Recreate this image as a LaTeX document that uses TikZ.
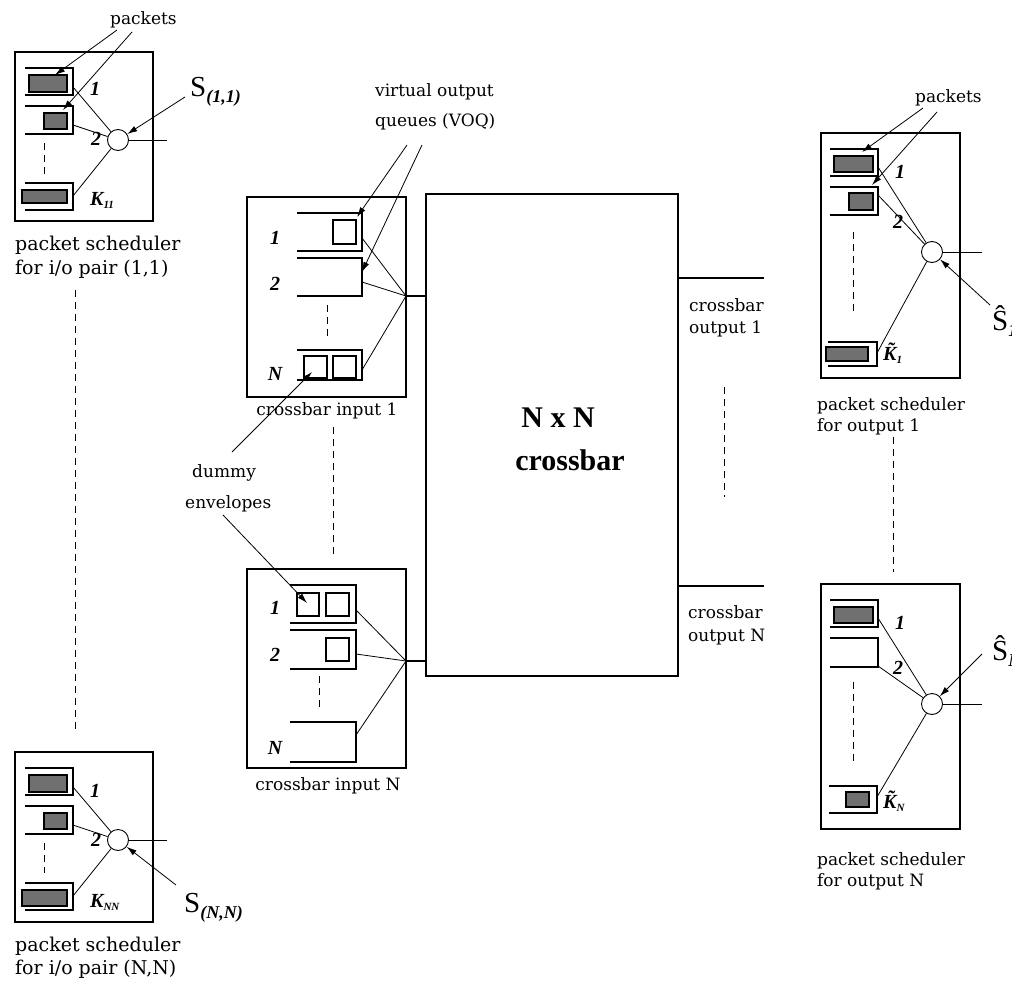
\documentclass[tikz,border=0pt]{standalone}
\usepackage{fontspec}
\usetikzlibrary{arrows.meta}
\newfontfamily\lblfont{DejaVu Serif}
\newfontfamily\tnr{Liberation Serif}
\definecolor{pktgray}{RGB}{112,112,112}
\begin{document}
\begin{tikzpicture}[x=1pt,y=-1pt,
  frame/.style={line width=1.3pt},
  thinl/.style={line width=0.8pt},
  pkt/.style={draw, line width=1.2pt, fill=pktgray},
  arr/.style={line width=0.8pt, -{Latex[length=10pt,width=6pt]}},
  dashl/.style={line width=1pt, dash pattern=on 7pt off 5pt},
  sched/.style={circle, draw, line width=0.9pt, minimum size=21pt, inner sep=0pt},
  lbl/.style={font=\lblfont\fontsize{17}{20}\selectfont, inner sep=0pt, anchor=base west},
  lblL/.style={font=\lblfont\fontsize{19}{22}\selectfont, inner sep=0pt, anchor=base west},
  qnum/.style={font=\tnr\bfseries\itshape\fontsize{20}{20}\selectfont, inner sep=0pt},
  big/.style={font=\tnr\bfseries\fontsize{30}{30}\selectfont, inner sep=0pt, anchor=base},
  slbl/.style={font=\tnr\fontsize{29}{29}\selectfont, inner sep=0pt, anchor=base west},
]
\useasboundingbox (0,0) rectangle (1012,987);
\fill[white] (0,0) rectangle (1012,987);

% ================= top-left scheduler (1,1)
\draw[frame] (15,52) rectangle (153,221);
\draw[frame] (25,68) -| (73,95) -- (25,95);
\draw[pkt] (29,75) rectangle (67,92);
\draw[frame] (25,106) -| (73,134) -- (25,134);
\draw[pkt] (44,113) rectangle (67,129);
\draw[dashl] (44,143) -- (44,175);
\draw[frame] (25,183) -| (73,210) -- (25,210);
\draw[pkt] (22,190) rectangle (67,203);
\node[sched] (c11) at (118,140) {};
\coordinate (tlq1) at (73,87);
\coordinate (tlq2) at (73,125);
\coordinate (tlqk) at (73,196);
\coordinate (tlout) at (167,140);
\draw[thinl] (tlq1) -- (c11);
\draw[thinl] (tlq2) -- (c11);
\draw[thinl] (tlqk) -- (c11);
\draw[thinl] (c11.east) -- (tlout);
\node[qnum] (tln1) at (95,89) {1};
\node[qnum] (tln2) at (96,139) {2};
\node[qnum, anchor=base west] (tlk) at (90,206) {K\raisebox{-3pt}{\fontsize{11}{11}\selectfont 11}};
\node[slbl] (s11) at (190,97) {S\raisebox{-6pt}{\fontsize{18}{18}\selectfont\bfseries\itshape (1,1)}};
\coordinate (s11a) at (185,97);
\draw[arr] (s11a) -- (c11);
\node[lbl] (pk1) at (110,25) {packets};
\coordinate (pk1a) at (117,30);
\coordinate (pk1b) at (132,32);
\coordinate (pk1t1) at (55,75);
\coordinate (pk1t2) at (63,110);
\draw[arr] (pk1a) -- (pk1t1);
\draw[arr] (pk1b) -- (pk1t2);
\node[lblL] (tlc1) at (15,251) {packet scheduler};
\node[lblL] (tlc2) at (15,274) {for i/o pair (1,1)};

% dashed link between left schedulers
\coordinate (ld1) at (75,290);
\coordinate (ld2) at (75,730);
\draw[dashl] (ld1) -- (ld2);

% ================= bottom-left scheduler (N,N)
\draw[frame] (15,752) rectangle (153,922);
\draw[frame] (25,768) -| (73,795) -- (25,795);
\draw[pkt] (29,775) rectangle (67,792);
\draw[frame] (25,806) -| (73,834) -- (25,834);
\draw[pkt] (44,813) rectangle (67,829);
\draw[dashl] (44,843) -- (44,873);
\draw[frame] (25,883) -| (73,910) -- (25,910);
\draw[pkt] (22,890) rectangle (67,906);
\node[sched] (cnn) at (118,840) {};
\coordinate (blq1) at (73,787);
\coordinate (blq2) at (73,825);
\coordinate (blqk) at (73,896);
\coordinate (blout) at (167,840);
\draw[thinl] (blq1) -- (cnn);
\draw[thinl] (blq2) -- (cnn);
\draw[thinl] (blqk) -- (cnn);
\draw[thinl] (cnn.east) -- (blout);
\node[qnum] (bln1) at (95,791) {1};
\node[qnum] (bln2) at (96,840) {2};
\node[qnum, anchor=base west] (blk) at (90,907) {K\raisebox{-3pt}{\fontsize{11}{11}\selectfont NN}};
\node[slbl] (snn) at (184,912) {S\raisebox{-6pt}{\fontsize{18}{18}\selectfont\bfseries\itshape (N,N)}};
\coordinate (snna) at (176,885);
\draw[arr] (snna) -- (cnn);
\node[lblL] (blc1) at (15,951) {packet scheduler};
\node[lblL] (blc2) at (15,974) {for i/o pair (N,N)};

% ================= crossbar input 1
\draw[frame] (247,197) rectangle (406,397);
\draw[frame] (297,213) -| (362,251) -- (297,251);
\draw[frame] (333,220) rectangle (356,244);
\draw[frame] (297,258) -| (362,296) -- (297,296);
\draw[dashl] (327,305) -- (327,337);
\draw[frame] (297,350) -| (362,380) -- (297,380);
\draw[frame] (304,356) rectangle (327,378);
\draw[frame] (333,356) rectangle (356,378);
\node[qnum] (i1n1) at (275,238) {1};
\node[qnum] (i1n2) at (275,284) {2};
\node[qnum] (i1nn) at (275,374) {N};
\coordinate (j1) at (406,296);
\coordinate (i1q1) at (362,238);
\coordinate (i1q2) at (362,282);
\coordinate (i1qn) at (362,370);
\draw[thinl] (i1q1) -- (j1);
\draw[thinl] (i1q2) -- (j1);
\draw[thinl] (i1qn) -- (j1);
\node[lbl, anchor=base] (i1c) at (327,415) {crossbar input 1};

% VOQ label
\node[lbl] (voq1) at (375,97) {virtual output};
\node[lbl] (voq2) at (375,127) {queues (VOQ)};
\coordinate (voqa) at (407,145);
\coordinate (voqb) at (422,145);
\coordinate (voqt1) at (357,217);
\coordinate (voqt2) at (362,272);
\draw[arr] (voqa) -- (voqt1);
\draw[arr] (voqb) -- (voqt2);

% dashed link between crossbar inputs
\coordinate (id1) at (333,427);
\coordinate (id2) at (333,555);
\draw[dashl] (id1) -- (id2);

% dummy envelopes
\node[lbl] (dm1) at (192,477) {dummy};
\node[lbl] (dm2) at (185,508) {envelopes};
\coordinate (dma) at (232,452);
\coordinate (dmb) at (223,515);
\coordinate (dmt1) at (312,372);
\coordinate (dmt2) at (307,603);
\draw[arr] (dma) -- (dmt1);
\draw[arr] (dmb) -- (dmt2);

% ================= crossbar input N
\draw[frame] (247,569) rectangle (406,768);
\draw[frame] (290,585) -| (356,623) -- (290,623);
\draw[frame] (297,593) rectangle (319,616);
\draw[frame] (326,593) rectangle (349,616);
\draw[frame] (290,630) -| (356,669) -- (290,669);
\draw[frame] (326,638) rectangle (349,661);
\draw[dashl] (319,676) -- (319,707);
\draw[frame] (290,722) -| (356,762) -- (290,762);
\node[qnum] (inn1) at (275,608) {1};
\node[qnum] (inn2) at (275,655) {2};
\node[qnum] (innn) at (275,748) {N};
\coordinate (jn) at (406,661);
\coordinate (inq1) at (356,610);
\coordinate (inq2) at (356,654);
\coordinate (inqn) at (356,735);
\draw[thinl] (inq1) -- (jn);
\draw[thinl] (inq2) -- (jn);
\draw[thinl] (inqn) -- (jn);
\node[lbl, anchor=base] (inc) at (328,790) {crossbar input N};

% ================= crossbar
\node[draw, line width=1.3pt, minimum width=252pt, minimum height=482pt, inner sep=0pt] (xb) at (552,435) {};
\draw[frame] (j1) -- (j1 -| xb.west);
\draw[frame] (jn) -- (jn -| xb.west);
\node[big] (nxn) at (558,427) {N x N};
\node[big] (xbl) at (570,470) {crossbar};
\coordinate (o1) at (764,278);
\coordinate (on) at (764,586);
\draw[frame] (o1 -| xb.east) -- (o1);
\draw[frame] (on -| xb.east) -- (on);
\node[lbl] (o1c1) at (689,311) {crossbar};
\node[lbl] (o1c2) at (689,333) {output 1};
\node[lbl] (onc1) at (688,618) {crossbar};
\node[lbl] (onc2) at (688,641) {output N};
\coordinate (od1) at (724,387);
\coordinate (od2) at (724,497);
\draw[dashl] (od1) -- (od2);

% ================= top-right scheduler (output 1)
\draw[frame] (821,133) rectangle (960,378);
\draw[frame] (830,149) -| (878,176) -- (830,176);
\draw[pkt] (834,156) rectangle (873,172);
\draw[frame] (830,187) -| (878,215) -- (830,215);
\draw[pkt] (849,193) rectangle (873,210);
\draw[dashl] (853,232) -- (853,313);
\draw[frame] (828,342) -| (877,366) -- (828,366);
\draw[pkt] (826,347) rectangle (868,361);
\node[sched] (co1) at (932,252) {};
\coordinate (trq1) at (878,167);
\coordinate (trq2) at (878,195);
\coordinate (trqk) at (877,353);
\coordinate (trout) at (982,252);
\draw[thinl] (trq1) -- (co1);
\draw[thinl] (trq2) -- (co1);
\draw[thinl] (trqk) -- (co1);
\draw[thinl] (co1.east) -- (trout);
\node[qnum] (trn1) at (900,172) {1};
\node[qnum] (trn2) at (898,222) {2};
\node[qnum, anchor=base west] (trk) at (883,360) {\~{K}\raisebox{-3pt}{\fontsize{11}{11}\selectfont 1}};
\node[slbl] (so1) at (992,330) {\^{S}\raisebox{-6pt}{\fontsize{18}{18}\selectfont\bfseries\itshape 1}};
\coordinate (so1a) at (990,305);
\draw[arr] (so1a) -- (co1);
\node[lbl] (pk2) at (915,103) {packets};
\coordinate (pk2a) at (923,108);
\coordinate (pk2b) at (937,112);
\coordinate (pk2t1) at (862,152);
\coordinate (pk2t2) at (872,185);
\draw[arr] (pk2a) -- (pk2t1);
\draw[arr] (pk2b) -- (pk2t2);
\node[lbl] (trc1) at (817,410) {packet scheduler};
\node[lbl] (trc2) at (817,431) {for output 1};

% dashed link between right schedulers
\coordinate (rd1) at (893,437);
\coordinate (rd2) at (893,572);
\draw[dashl] (rd1) -- (rd2);

% ================= bottom-right scheduler (output N)
\draw[frame] (821,584) rectangle (960,829);
\draw[frame] (830,600) -| (878,627) -- (830,627);
\draw[pkt] (834,607) rectangle (873,623);
\draw[frame] (830,638) -| (878,667) -- (830,667);
\draw[dashl] (853,682) -- (853,765);
\draw[frame] (829,786) -| (877,813) -- (829,813);
\draw[pkt] (846,792) rectangle (869,807);
\node[sched] (con) at (932,704) {};
\coordinate (brq1) at (878,618);
\coordinate (brq2) at (878,666);
\coordinate (brqk) at (877,797);
\coordinate (brout) at (982,704);
\draw[thinl] (brq1) -- (con);
\draw[thinl] (brq2) -- (con);
\draw[thinl] (brqk) -- (con);
\draw[thinl] (con.east) -- (brout);
\node[qnum] (brn1) at (900,623) {1};
\node[qnum] (brn2) at (898,668) {2};
\node[qnum, anchor=base west] (brk) at (883,808) {\~{K}\raisebox{-3pt}{\fontsize{11}{11}\selectfont N}};
\node[slbl] (son) at (992,660) {\^{S}\raisebox{-6pt}{\fontsize{18}{18}\selectfont\bfseries\itshape N}};
\coordinate (sona) at (982,654);
\draw[arr] (sona) -- (con);
\node[lbl] (brc1) at (817,865) {packet scheduler};
\node[lbl] (brc2) at (817,886) {for output N};
\end{tikzpicture}
\end{document}
